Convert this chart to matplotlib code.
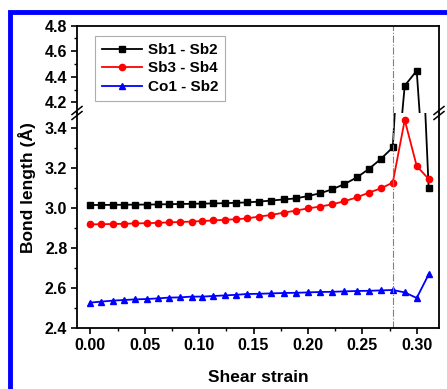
import matplotlib
matplotlib.use("Agg")
import matplotlib.pyplot as plt
from matplotlib.lines import Line2D
from matplotlib.patches import Rectangle
from matplotlib.ticker import MultipleLocator

plt.rcParams["font.family"] = ["Liberation Sans", "DejaVu Sans"]
plt.rcParams["font.weight"] = "bold"

# shear strain
strain = [0.000, 0.010, 0.021, 0.031, 0.041, 0.052, 0.062, 0.072, 0.082, 0.093,
          0.103, 0.113, 0.124, 0.134, 0.144, 0.155, 0.166, 0.178, 0.189, 0.200,
          0.211, 0.222, 0.233, 0.245, 0.256, 0.267, 0.278, 0.289, 0.300, 0.311]

# bond lengths (A)
sb1_sb2 = [3.015, 3.015, 3.016, 3.016, 3.017, 3.017, 3.018, 3.019, 3.020, 3.021,
           3.022, 3.023, 3.024, 3.026, 3.028, 3.032, 3.037, 3.043, 3.048, 3.060,
           3.073, 3.093, 3.118, 3.153, 3.195, 3.245, 3.303, 4.330, 4.447, 3.100]
sb3_sb4 = [2.918, 2.919, 2.920, 2.921, 2.923, 2.924, 2.926, 2.928, 2.930, 2.932,
           2.935, 2.938, 2.941, 2.944, 2.948, 2.957, 2.965, 2.977, 2.987, 2.998,
           3.007, 3.018, 3.033, 3.053, 3.077, 3.098, 3.127, 3.440, 3.210, 3.145]
co1_sb2 = [2.527, 2.532, 2.537, 2.540, 2.543, 2.545, 2.548, 2.552, 2.553, 2.557,
           2.557, 2.560, 2.563, 2.566, 2.570, 2.571, 2.573, 2.575, 2.576, 2.578,
           2.580, 2.581, 2.583, 2.585, 2.586, 2.588, 2.590, 2.578, 2.550, 2.668]

labels = ["Sb1 - Sb2", "Sb3 - Sb4", "Co1 - Sb2"]
transition = 0.278

W, H = 447, 389
fig = plt.figure(figsize=(W / 100, H / 100), dpi=100)

left, right = 77 / W, 439 / W
y_top, y_brk, y_bot = 25.7, 113, 328
ax_hi = fig.add_axes([left, 1 - y_brk / H, right - left, (y_brk - y_top) / H])
ax_lo = fig.add_axes([left, 1 - y_bot / H, right - left, (y_bot - y_brk) / H])

series = [
    (sb1_sb2, "black", "s", 3.8),
    (sb3_sb4, "red", "o", 4.5),
    (co1_sb2, "blue", "^", 4.8),
]

for ax in (ax_hi, ax_lo):
    for (vals, c, m, ms), lab in zip(series, labels):
        ax.plot(strain, vals, color=c, marker=m, markersize=ms, lw=1.3, label=lab)
    ax.axvline(transition, color="gray", lw=0.8, ls="-.")
    ax.set_xlim(-0.0123, 0.3205)
    for s in ax.spines.values():
        s.set_linewidth(1.3)
    ax.tick_params(direction="out", width=1.2, length=4.5, labelsize=11.5,
                   right=False, top=False, pad=2.5)
    ax.tick_params(which="minor", direction="out", width=1.0, length=2.5)
    ax.yaxis.set_minor_locator(MultipleLocator(0.1))

ax_hi.set_ylim(4.116, 4.8)
ax_hi.set_yticks([4.2, 4.4, 4.6, 4.8])
ax_hi.spines["bottom"].set_visible(False)
ax_hi.tick_params(axis="x", which="both", bottom=False, labelbottom=False)

ax_lo.set_ylim(2.4, 3.475)
ax_lo.set_yticks([2.4, 2.6, 2.8, 3.0, 3.2, 3.4])
ax_lo.spines["top"].set_visible(False)
ax_lo.set_xticks([0.0, 0.05, 0.10, 0.15, 0.20, 0.25, 0.30])
ax_lo.set_xticklabels(["0.00", "0.05", "0.10", "0.15", "0.20", "0.25", "0.30"])
ax_lo.xaxis.set_minor_locator(MultipleLocator(0.025))

for ax in (ax_hi, ax_lo):
    for lab in ax.get_xticklabels() + ax.get_yticklabels():
        lab.set_fontweight("bold")

# break marks
for xp in (77, 439):
    for dy in (-2.5, 2.5):
        fig.add_artist(Line2D([(xp - 5) / W, (xp + 5) / W],
                              [1 - (y_brk + 4 + dy) / H, 1 - (y_brk - 4 + dy) / H],
                              color="black", lw=1.1))

leg = ax_hi.legend(loc="upper left", bbox_to_anchor=((95 - 77) / 362, (113 - 36) / 87.3),
                   borderaxespad=0, frameon=True, fancybox=False, edgecolor="#999999",
                   handlelength=2.6, borderpad=0.45, labelspacing=0.3,
                   handletextpad=0.4, prop={"weight": "bold", "size": 11})
leg.get_frame().set_linewidth(0.8)

fig.text(27 / W, 1 - 188 / H, "Bond length (Å)", rotation=90, ha="center",
         va="center", fontsize=12.5, fontweight="bold")
fig.text(258 / W, 1 - 378 / H, "Shear strain", ha="center", va="center",
         fontsize=12.5, fontweight="bold")

# blue frame
fig.add_artist(Rectangle((10 / W, -0.1), 1.2, 1 - 12 / H + 0.1,
                         transform=fig.transFigure, fill=False,
                         edgecolor="blue", lw=3.5))

fig.savefig("out.png", dpi=100)
